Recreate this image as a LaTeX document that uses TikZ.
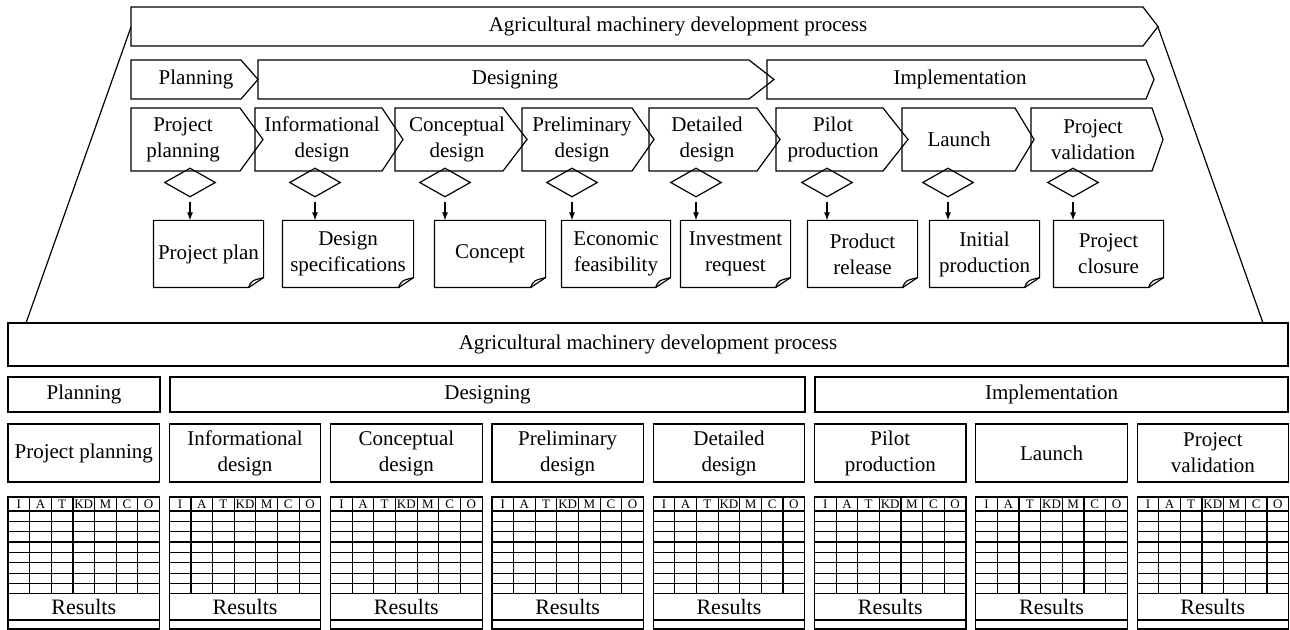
\documentclass[tikz,border=0pt]{standalone}
\usepackage{fontspec}
\setmainfont{Liberation Serif}
\usetikzlibrary{shapes.geometric, arrows.meta}
\tikzset{
  lbl/.style = {font = \fontsize{10.5}{13}\selectfont, align = center, inner sep = 0pt},
  head/.style = {font = \fontsize{6.5}{7}\selectfont, inner sep = 0pt},
  gate/.style = {draw, diamond, minimum width = 25.5pt, minimum height = 14.5pt, inner sep = 0pt},
  sheet/.style = {lbl, minimum height = 33pt},
  flow/.style = {-{Latex[length = 4pt, width = 3pt]}, shorten <= 2pt}
}
\begin{document}
\begin{tikzpicture}[x = 0.5pt, y = -0.5pt, line width = 0.6pt]
  \useasboundingbox (0, 0) rectangle (1290, 630);
  % upper part: process, phases, stages
  \draw (131, 7) -- (1143, 7) -- (1158, 26.5) -- (1143, 46) -- (131, 46) -- cycle;
  \node[lbl] (proc) at (678, 26.5) {Agricultural machinery development process};
  \draw (131, 60) -- (241, 60) -- (258, 79.5) -- (241, 99) -- (131, 99) -- cycle;
  \draw (258, 60) -- (749, 60) -- (774, 79.5) -- (749, 99) -- (258, 99) -- cycle;
  \draw (767, 60) -- (1146, 60) -- (1154, 79.5) -- (1146, 99) -- (767, 99) -- cycle;
  \node[lbl] (plan) at (196, 79.5) {Planning};
  \node[lbl] (desg) at (515, 79.5) {Designing};
  \node[lbl] (impl) at (960, 79.5) {Implementation};
  \draw (131, 108) -- (240, 108) -- (263, 139.5) -- (240, 171) -- (131, 171) -- cycle;
  \draw (255, 108) -- (382, 108) -- (403, 139.5) -- (382, 171) -- (255, 171) -- cycle;
  \draw (395, 108) -- (503, 108) -- (527, 139.5) -- (503, 171) -- (395, 171) -- cycle;
  \draw (522, 108) -- (632, 108) -- (654, 139.5) -- (632, 171) -- (522, 171) -- cycle;
  \draw (649, 108) -- (757, 108) -- (780, 139.5) -- (757, 171) -- (649, 171) -- cycle;
  \draw (776, 108) -- (883, 108) -- (908, 139.5) -- (883, 171) -- (776, 171) -- cycle;
  \draw (902, 108) -- (1015, 108) -- (1034, 139.5) -- (1015, 171) -- (902, 171) -- cycle;
  \draw (1031, 108) -- (1152, 108) -- (1163, 139.5) -- (1152, 171) -- (1031, 171) -- cycle;
  \node[lbl] (c1) at (183, 139.5) {Project\\planning};
  \node[lbl] (c2) at (322, 139.5) {Informational\\design};
  \node[lbl] (c3) at (457, 139.5) {Conceptual\\design};
  \node[lbl] (c4) at (582, 139.5) {Preliminary\\design};
  \node[lbl] (c5) at (707, 139.5) {Detailed\\design};
  \node[lbl] (c6) at (833, 139.5) {Pilot\\production};
  \node[lbl] (c7) at (959, 139.5) {Launch};
  \node[lbl] (c8) at (1093, 139.5) {Project\\validation};
  % gates and results
  \node[gate] (g1) at (190, 182.5) {};
  \node[gate] (g2) at (315, 182.5) {};
  \node[gate] (g3) at (445, 182.5) {};
  \node[gate] (g4) at (572, 182.5) {};
  \node[gate] (g5) at (696, 182.5) {};
  \node[gate] (g6) at (827, 182.5) {};
  \node[gate] (g7) at (948, 182.5) {};
  \node[gate] (g8) at (1073, 182.5) {};
  \node[sheet, minimum width = 54.5pt] (r1) at (208.5, 254) {Project plan};
  \node[sheet, minimum width = 65pt] (r2) at (348, 254) {Design\\specifications};
  \node[sheet, minimum width = 55pt] (r3) at (490, 254) {Concept};
  \node[sheet, minimum width = 54pt] (r4) at (616, 254) {Economic\\feasibility};
  \node[sheet, minimum width = 54.5pt] (r5) at (735.5, 254) {Investment\\request};
  \node[sheet, minimum width = 54.5pt] (r6) at (862.5, 254) {Product\\release};
  \node[sheet, minimum width = 54.5pt] (r7) at (984.5, 254) {Initial\\production};
  \node[sheet, minimum width = 54.5pt] (r8) at (1108.5, 254) {Project\\closure};
  \foreach \n in {r1, r2, r3, r4, r5, r6, r7, r8} {
    \draw (\n.north west) -- (\n.north east) -- ([yshift = 5pt]\n.south east)
      -- ([xshift = -7.5pt]\n.south east) -- (\n.south west) -- cycle;
    \draw ([xshift = -7.5pt]\n.south east) .. controls ([xshift = -6pt, yshift = 3.5pt]\n.south east) .. ([yshift = 5pt]\n.south east);
  }
  \foreach \i in {1, ..., 8}
    \draw[flow] (g\i.south) -- (g\i.south |- r\i.north);
  % zoom lines
  \draw (131, 27) -- (26, 323);
  \draw (1158, 27) -- (1263, 323);
  % lower part
  \draw (8, 323) rectangle (1288, 366);
  \node[lbl] (proc2) at (648, 344.5) {Agricultural machinery development process};
  \draw (8, 377) rectangle (160, 412);
  \draw (170, 377) rectangle (805, 412);
  \draw (815, 377) rectangle (1288, 412);
  \node[lbl] (plan2) at (84, 394.5) {Planning};
  \node[lbl] (desg2) at (487.5, 394.5) {Designing};
  \node[lbl] (impl2) at (1051.5, 394.5) {Implementation};
  \foreach \i/\txt in {0/Project planning, 1/Informational\\design, 2/Conceptual\\design,
      3/Preliminary\\design, 4/Detailed\\design, 5/Pilot\\production, 6/Launch, 7/Project\\validation} {
    \pgfmathsetmacro{\xl}{8 + 161.3*\i}
    \pgfmathsetmacro{\xr}{\xl + 151.5}
    \draw (\xl, 424) rectangle (\xr, 482);
    \node[lbl] (stage\i) at (\xl + 75.75, 453) {\txt};
    \draw (\xl, 497) rectangle (\xr, 629);
    \foreach \k in {0, ..., 8}
      \draw (\xl, 511 + 10.35*\k) -- (\xr, 511 + 10.35*\k);
    \draw (\xl, 620) -- (\xr, 620);
    \foreach \j in {1, ..., 6}
      \draw (\xl + 21.64*\j, 497) -- (\xl + 21.64*\j, 594);
    \foreach \h [count = \j] in {I, A, T, KD, M, C, O}
      \node[head] (hd-\i-\j) at (\xl + 21.64*\j - 10.82, 504.5) {\h};
    \node[lbl, font = \fontsize{11}{13}\selectfont] (res\i) at (\xl + 75.75, 607) {Results};
  }
\end{tikzpicture}
\end{document}
